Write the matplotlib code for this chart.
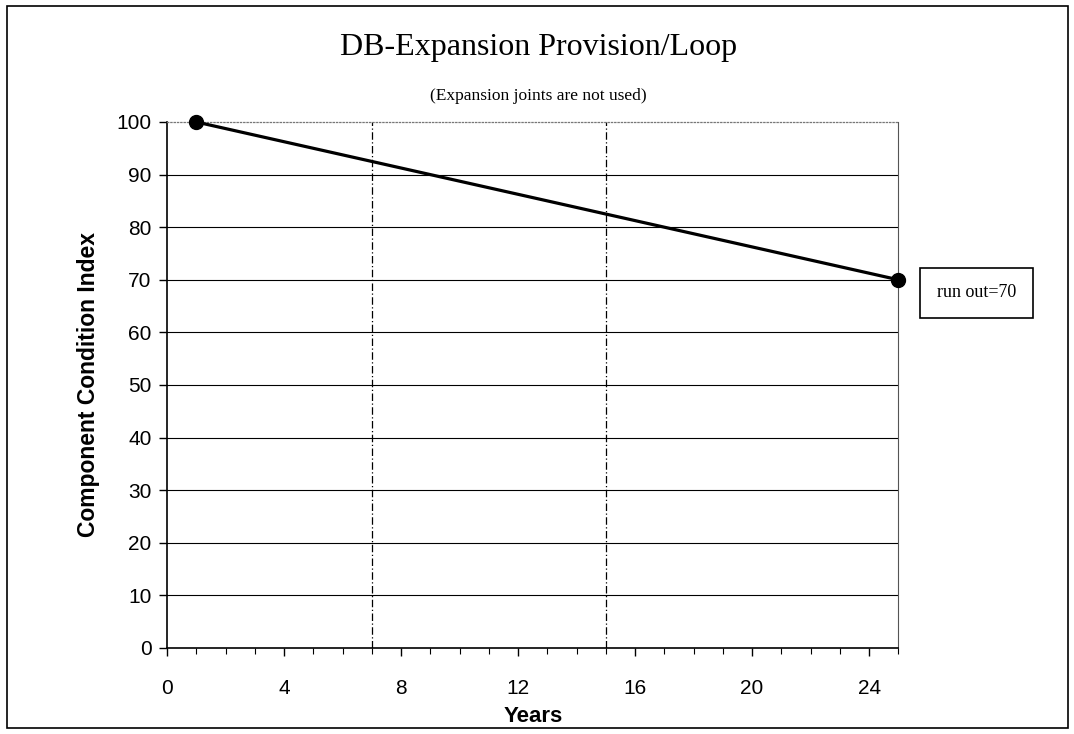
import matplotlib.pyplot as plt
from matplotlib.patches import Rectangle

years = [1, 25]
condition = [100, 70]
phase_lines = [7, 15]
x_ticks = [0, 4, 8, 12, 16, 20, 24]
y_ticks = [0, 10, 20, 30, 40, 50, 60, 70, 80, 90, 100]

sans = 'Liberation Sans'
serif = 'Liberation Serif'

fig = plt.figure(figsize=(10.74, 7.34), dpi=100)
ax = fig.add_axes([0.1555, 0.1172, 0.681, 0.7166])

# horizontal grid
for y in y_ticks[1:-1]:
    ax.axhline(y, color='black', lw=0.8, zorder=1)

# phase boundaries
for x in phase_lines:
    ax.axvline(x, color='black', lw=0.9, linestyle=(0, (6, 2, 1, 2)), zorder=1)

ax.plot(years, condition, color='black', lw=2.3, marker='o', markersize=10,
        clip_on=False, zorder=3)

ax.set_xlim(0, 25)
ax.set_ylim(0, 100)
ax.set_xticks(x_ticks)
ax.set_xticks(range(0, 26), minor=True)
ax.set_yticks(y_ticks)
ax.tick_params(axis='both', which='major', direction='out', length=6,
               width=1, labelsize=15)
ax.tick_params(axis='x', which='major', pad=16)
ax.tick_params(axis='y', which='major', pad=5)
ax.tick_params(axis='x', which='minor', direction='out', length=4, width=0.8)
for lab in ax.get_xticklabels() + ax.get_yticklabels():
    lab.set_fontfamily(sans)

ax.spines['left'].set_linewidth(1.2)
ax.spines['bottom'].set_linewidth(1.2)
ax.spines['top'].set_color('#777777')
ax.spines['top'].set_linestyle(':')
ax.spines['top'].set_linewidth(0.9)
ax.spines['right'].set_color('#555555')
ax.spines['right'].set_linewidth(0.8)

ax.set_xlabel('Years', fontfamily=sans, fontweight='bold', fontsize=16, labelpad=6)
ax.set_ylabel('Component Condition Index', fontfamily=sans, fontweight='bold',
              fontsize=16.5, labelpad=12)

fig.text(0.501, 0.935, 'DB-Expansion Provision/Loop', fontfamily=serif,
         fontsize=23, ha='center', va='center')
fig.text(0.501, 0.869, '(Expansion joints are not used)', fontfamily=serif,
         fontsize=12.5, ha='center', va='center')

# run-out label box
fig.patches.append(Rectangle((0.8566, 0.5668), 0.105, 0.068, transform=fig.transFigure,
                             fill=False, edgecolor='black', lw=1.2))
fig.text(0.909, 0.601, 'run out=70', fontfamily=serif, fontsize=13,
         ha='center', va='center')

# outer frame
fig.patches.append(Rectangle((0.0065, 0.0082), 0.988, 0.983, transform=fig.transFigure,
                             fill=False, edgecolor='black', lw=1.2))

fig.savefig('out.png', dpi=100)
